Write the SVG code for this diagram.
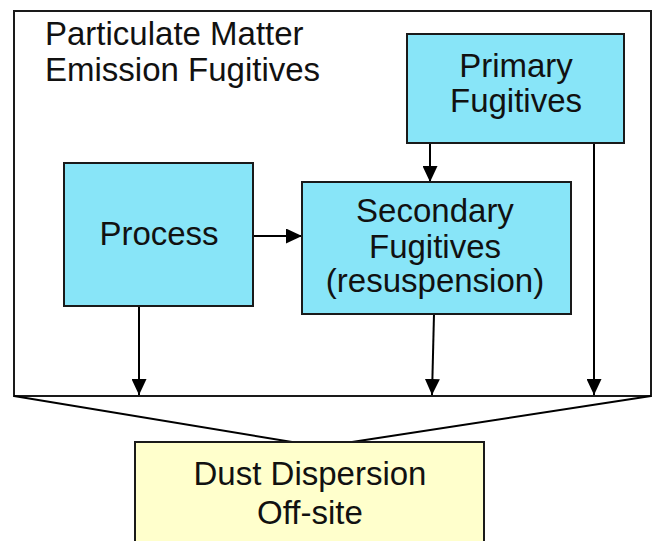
<svg xmlns="http://www.w3.org/2000/svg" width="655" height="541" viewBox="0 0 655 541">
<defs>
<marker id="ah" viewBox="0 0 16 15" refX="16" refY="7.5" markerWidth="16" markerHeight="15" orient="auto" markerUnits="userSpaceOnUse">
<path d="M0,0 L16,7.5 L0,15 Z" fill="#000"/>
</marker>
<style>
.box{fill:#88e5f8;stroke:#1a1a1a;stroke-width:2}
.ybox{fill:#ffffcc;stroke:#1a1a1a;stroke-width:2}
.t{font-family:"Liberation Sans",Arial,sans-serif;font-size:33px;fill:#111}
.c{text-anchor:middle}
.ln{stroke:#000;stroke-width:2;fill:none}
.ar{stroke:#000;stroke-width:2;fill:none;marker-end:url(#ah)}
</style>
</defs>
<rect width="655" height="541" fill="#fff"/>
<g id="container">
<rect x="14" y="11" width="637" height="385" fill="none" stroke="#1a1a1a" stroke-width="2"/>
<text class="t" x="45" y="45">Particulate Matter</text>
<text class="t" x="45" y="81">Emission Fugitives</text>
</g>
<g id="connectors">
<line class="ar" x1="430" y1="143" x2="430" y2="182"/>
<line class="ar" x1="253" y1="236" x2="302" y2="236"/>
<line class="ar" x1="139" y1="306" x2="139" y2="395"/>
<line class="ar" x1="434" y1="314" x2="432" y2="395"/>
<line class="ar" x1="594" y1="143" x2="594" y2="395"/>
<polyline class="ln" points="14,396 292,442"/>
<polyline class="ln" points="651,396 352,442"/>
</g>
<g id="primary">
<rect class="box" x="407" y="34" width="217" height="109"/>
<text class="t c" x="516" y="77">Primary</text>
<text class="t c" x="516" y="112">Fugitives</text>
</g>
<g id="process">
<rect class="box" x="64" y="163" width="189" height="143"/>
<text class="t c" x="159" y="245">Process</text>
</g>
<g id="secondary">
<rect class="box" x="302" y="182" width="269" height="132"/>
<text class="t c" x="435" y="222">Secondary</text>
<text class="t c" x="435" y="258">Fugitives</text>
<text class="t c" x="435" y="292">(resuspension)</text>
</g>
<g id="dust">
<rect class="ybox" x="135" y="442" width="349" height="110"/>
<text class="t c" x="310" y="485">Dust Dispersion</text>
<text class="t c" x="310" y="524">Off-site</text>
</g>
</svg>
